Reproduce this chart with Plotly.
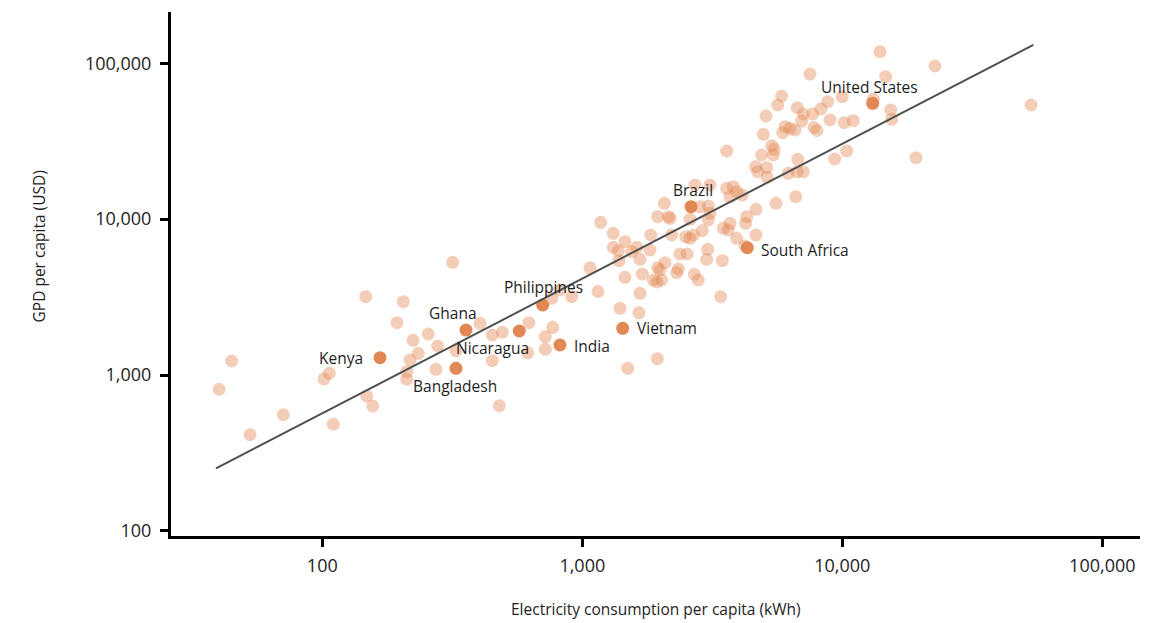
import math
import plotly.graph_objects as go

# ---- data ----
# Electricity consumption per capita (kWh) / GDP per capita (USD), other countries
other_kwh = [
    40.1, 44.8, 52.7, 70.8, 101.5, 106.4, 110.2, 146.9, 148.2, 156.3,
    193.8, 204.9, 211.2, 211.2, 217.5, 223.4, 234.0, 255.7, 273.7, 277.8,
    317.3, 326.8, 404.3, 450.6, 450.6, 479.5, 492.4, 616.6, 623.7, 720.6,
    720.6, 762.6, 769.4, 820.6, 910.5, 1149,
    1070, 1177, 1316, 1316, 1376, 1384, 1459, 1459, 1396, 1495,
    1549, 1619, 1652, 1667, 1667, 1701, 1822, 1833, 1875, 1944,
    1950, 1950, 1990, 2021, 1938, 2068, 2081, 2142, 2175, 2207,
    2307, 2340, 2375, 2498, 2533, 2595, 2595, 2672, 2697, 2713,
    2794, 2836, 2894, 3010, 3036, 3052, 3052, 3099, 3099, 3407,
    3455, 3486, 3592, 3592, 3643, 3699, 3699, 3809, 3925, 3925,
    4124, 4251, 4289, 4225, 4657, 4657,
    4645, 4728, 4898, 4968, 5088, 5120, 5147, 5353, 5463, 5429,
    5559, 5644, 5847, 5900, 6021, 6200, 6293, 6577, 6618, 6712,
    6712, 6737, 6978, 7079, 7079, 7508, 7690, 7779, 7988, 8277,
    8786, 8968, 9350, 10000, 10178, 10397, 11023, 13159, 13964, 14690,
    15355, 15488, 19206, 22730, 53200,
]
other_gdp = [
    810, 1230, 414, 556, 943, 1025, 483, 3178, 734, 633,
    2165, 2953, 1050, 939, 1248, 1669, 1378, 1832, 1088, 1535,
    5283, 1425, 2146, 1805, 1235, 635, 1879, 1390, 2165, 1761,
    1461, 3105, 2023, 3510, 3178, 3433,
    4879, 9539, 8108, 6595, 6243, 5410, 7162, 4233, 2678, 1104,
    6178, 6595, 2509, 5522, 3343, 4444, 6336, 7907, 4068, 1272,
    4879, 10361, 4716, 4068, 3950, 12630, 5252, 10361, 10118, 7907,
    4532, 4786, 5972, 7712, 5972, 9970, 7531, 7907, 4424, 16548,
    4068, 12009, 8425, 5522, 6402, 12134, 9867, 16548, 10894, 3178,
    5410, 8730, 15765, 27350, 8514, 13920, 9398, 16140, 14990, 7531,
    14275, 9398, 10361, 6723, 11556, 7907,
    21680, 20140, 25770, 34990, 45850, 21360, 18540, 29570, 28040, 25770,
    12630, 53930, 61600, 35830, 39140, 19670, 38220, 37280, 13920, 51830,
    20140, 24190, 42590, 47230, 20140, 85220, 47230, 38680, 37010, 50840,
    56640, 43220, 24290, 60970, 41530, 27350, 42770, 58940, 118500, 81900,
    50100, 43660, 24770, 95940, 53930,
]

# highlighted countries
hl_names = ["Kenya", "Ghana", "Nicaragua", "Bangladesh", "Philippines",
            "India", "Vietnam", "Brazil", "South Africa", "United States"]
hl_kwh = [166.7, 357, 572.3, 326.8, 704.2, 820.6, 1430, 2619, 4312, 13090]
hl_gdp = [1291, 1943, 1915, 1104, 2812, 1557, 1993, 12009, 6556, 55310]

# trend line end points
trend_kwh = [39.0, 54300]
trend_gdp = [252, 131000]

# axis ticks
tick_vals_x = [100, 1000, 10000, 100000]
tick_text_x = ["100", "1,000", "10,000", "100,000"]
tick_vals_y = [100, 1000, 10000, 100000]
tick_text_y = ["100", "1,000", "10,000", "100,000"]

x_title = "Electricity consumption per capita (kWh)"
y_title = "GPD per capita (USD)"

# ---- styling ----
FONT = "Open Sans"
HL_COLOR = "rgb(226,136,84)"
TEXT_COLOR = "#1e1e1e"

# label placement (anchor, xshift, yshift) per highlighted country
label_style = {
    "Kenya": ("right", -15, 0),
    "Ghana": ("center", -13, 17),
    "Nicaragua": ("center", -27, -17),
    "Bangladesh": ("center", -1, -18),
    "Philippines": ("center", 1, 18),
    "India": ("left", 12, -1),
    "Vietnam": ("left", 12, 0),
    "Brazil": ("center", 2, 17),
    "South Africa": ("left", 12, -2),
    "United States": ("center", -3, 16),
}

fig = go.Figure()

fig.add_trace(go.Scatter(
    x=other_kwh, y=other_gdp, mode="markers",
    marker=dict(size=13, color=HL_COLOR, opacity=0.42, line=dict(width=0)),
    hoverinfo="skip", showlegend=False,
))
fig.add_trace(go.Scatter(
    x=hl_kwh, y=hl_gdp, mode="markers", text=hl_names,
    marker=dict(size=13, color=HL_COLOR, opacity=1, line=dict(width=0)),
    showlegend=False,
))
fig.add_trace(go.Scatter(
    x=trend_kwh, y=trend_gdp, mode="lines",
    line=dict(color="#505050", width=2),
    hoverinfo="skip", showlegend=False,
))

annotations = []
for name, xv, yv in zip(hl_names, hl_kwh, hl_gdp):
    anchor, xs, ys = label_style[name]
    annotations.append(dict(
        x=math.log10(xv), y=math.log10(yv), xref="x", yref="y",
        text=name, showarrow=False, xanchor=anchor, yanchor="middle",
        xshift=xs, yshift=ys,
        font=dict(family=FONT, size=15.5, color=TEXT_COLOR),
    ))

annotations.append(dict(
    text=x_title, xref="paper", yref="paper", x=0.5, y=-0.14,
    xanchor="center", yanchor="middle", showarrow=False,
    font=dict(family=FONT, size=15.5, color=TEXT_COLOR),
))
annotations.append(dict(
    text=y_title, xref="paper", yref="paper", x=-0.136, y=0.553,
    xanchor="center", yanchor="middle", showarrow=False, textangle=-90,
    font=dict(family=FONT, size=15.5, color=TEXT_COLOR),
))

axis_common = dict(
    type="log", showgrid=False, zeroline=False,
    showline=True, linecolor="black", linewidth=3,
    ticks="outside", ticklen=8, tickwidth=3, tickcolor="black",
    tickfont=dict(family=FONT, size=18, color=TEXT_COLOR),
)

# page body has an 8px default margin, so the figure is drawn 8px smaller
fig.update_layout(
    width=1145, height=615,
    margin=dict(l=163, r=13, t=4, b=87),
    paper_bgcolor="white", plot_bgcolor="white",
    xaxis=dict(range=[1.4181, 5.145], tickvals=tick_vals_x, ticktext=tick_text_x,
               ticklabelstandoff=3, **axis_common),
    yaxis=dict(range=[1.9673, 5.3284], tickvals=tick_vals_y, ticktext=tick_text_y,
               ticklabelstandoff=5, **axis_common),
    annotations=annotations,
    font=dict(family=FONT, color=TEXT_COLOR),
)

fig.write_html("out.html")
